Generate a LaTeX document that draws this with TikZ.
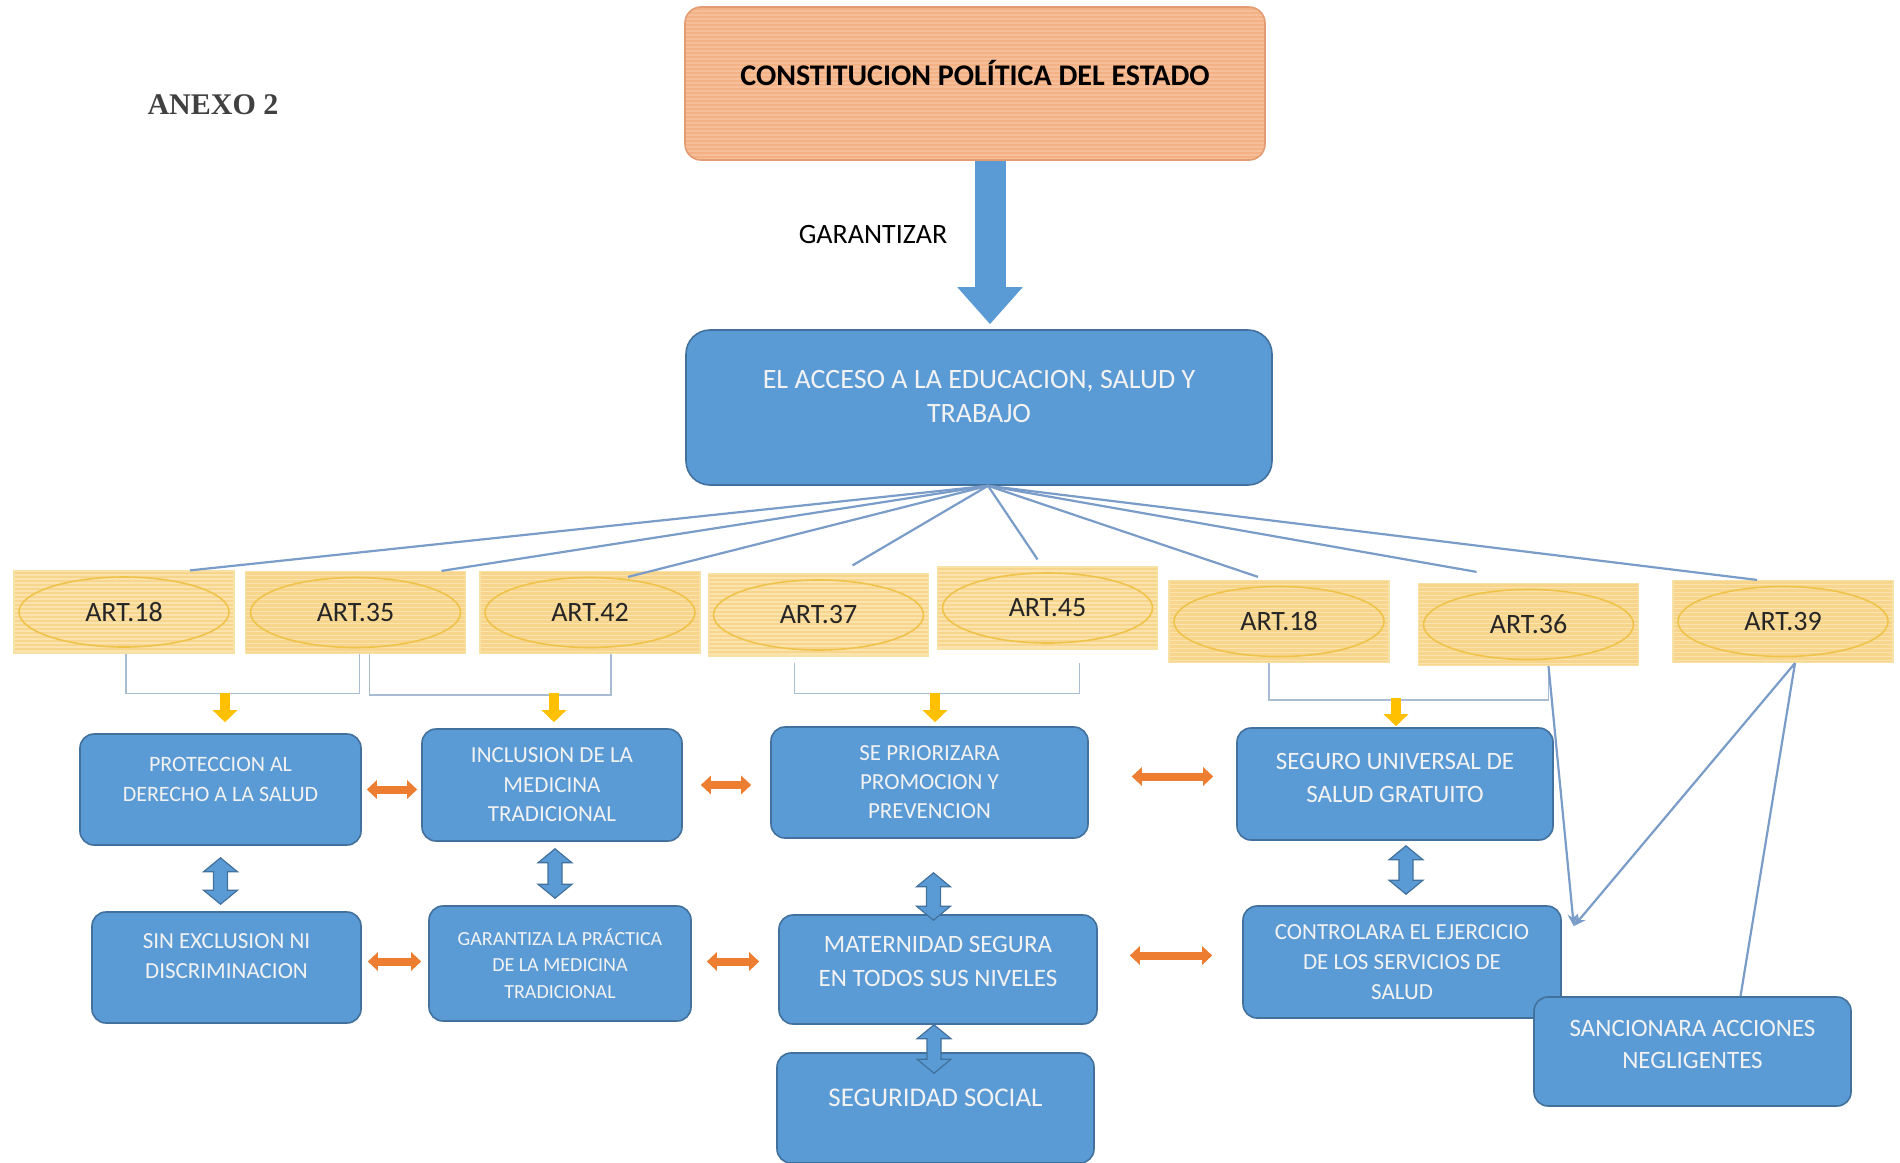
\documentclass[tikz,border=0pt]{standalone}
\usepackage{fontspec}
\setmainfont{Carlito}
\newfontfamily\anexofont{Liberation Serif}
\usetikzlibrary{arrows.meta,positioning,calc}
\definecolor{boxblue}{HTML}{5B9BD5}
\definecolor{boxedge}{HTML}{41719C}
\definecolor{boxtext}{HTML}{F2F2F2}
\definecolor{salmon}{HTML}{F4B183}
\definecolor{salmonline}{HTML}{F6BF9C}
\definecolor{salmonedge}{HTML}{E39C72}
\definecolor{artfill}{HTML}{F8D58C}
\definecolor{artline}{HTML}{FBE3AE}
\definecolor{artedge}{HTML}{EFC34A}
\definecolor{yelarrow}{HTML}{FFC000}
\definecolor{orarrow}{HTML}{ED7D31}
\definecolor{fanline}{HTML}{7A9CC9}
\definecolor{brkline}{HTML}{A9BCD3}
\newcommand{\fsz}[2]{\fontsize{#1}{#2}\selectfont}

\tikzset{
  topbox/.style={draw=salmonedge, fill=salmon, line width=0.8pt, rounded corners=8pt,
    font=\bfseries\fsz{15}{18}, text=black,
    path picture={\foreach \k in {1,...,40}
      \draw[salmonline,line width=0.6pt] ([yshift=-\k*2pt]path picture bounding box.north west) -- ([yshift=-\k*2pt]path picture bounding box.north east);}},
  artbox/.style={draw=artedge!50!white, fill=artfill, line width=0.6pt,
    minimum width=110pt, minimum height=41pt, font=\fsz{14}{16}, text=black!85,
    path picture={\foreach \k in {1,...,21}
      \draw[artline,line width=0.6pt] ([yshift=-\k*2pt]path picture bounding box.north west) -- ([yshift=-\k*2pt]path picture bounding box.north east);
      \draw[artedge,line width=0.8pt] (path picture bounding box.center) ellipse [x radius=52.5pt, y radius=17.5pt];}},
  bluebox/.style={draw=boxedge, fill=boxblue, line width=0.8pt, rounded corners=7pt,
    text=boxtext, align=center, inner sep=2pt},
  bigarrow/.style={boxblue, line width=15.5pt, -{Triangle[width=31.5pt,length=18.5pt]}},
  yelarr/.style={yelarrow, line width=5pt, -{Triangle[width=12pt,length=6pt]}},
  orarr/.style={orarrow, line width=4pt, {Triangle[width=9pt,length=5pt]}-{Triangle[width=9pt,length=5pt]}},
  % vertical block arrow with two heads, drawn as an outlined polygon
  bluearr/.style={draw=boxedge, fill=boxblue, line width=0.6pt, line join=miter,
    to path={let \p1=(\tikztostart), \p2=(\tikztotarget) in
      (\x1,\y1) -- (\x1+8.5pt,\y1-7pt) -- (\x1+3.5pt,\y1-7pt) -- (\x1+3.5pt,\y2+7pt) -- (\x1+8.5pt,\y2+7pt)
      -- (\x1,\y2) -- (\x1-8.5pt,\y2+7pt) -- (\x1-3.5pt,\y2+7pt) -- (\x1-3.5pt,\y1-7pt) -- (\x1-8.5pt,\y1-7pt) -- cycle}},
  fan/.style={fanline, line width=1.1pt},
  bracket/.style={brkline, line width=0.8pt},
  thinarr/.style={fanline, line width=1.1pt, -{Stealth[length=6pt,width=5pt]}}
}

\begin{document}
\begin{tikzpicture}[x=0.5pt,y=-0.5pt,>=Stealth]
  \useasboundingbox[fill=white] (0,0) rectangle (1900,1162);
  \node[font=\anexofont\bfseries\fsz{15}{18},text=black!75] (anexo) at (213,105) {ANEXO 2};
  % constitution and the access box
  \node[topbox,minimum width=290pt,minimum height=76.5pt,text depth=10.5pt] (const) at (975,83.5) {CONSTITUCION POLÍTICA DEL ESTADO};
  \node[bluebox,rounded corners=12pt,minimum width=293pt,minimum height=77.5pt,font=\fsz{14}{17},text depth=11.5pt] (acceso) at (979,407.5) {EL ACCESO A LA EDUCACION, SALUD Y\\TRABAJO};
  \draw[bigarrow] ([xshift=7.5pt]const.south) -- ($(const.south |- acceso.north)+(7.5pt,2.5pt)$);
  \node[font=\fsz{14}{16}] (garlbl) at (873,235) {GARANTIZAR};
  % articles
  \foreach \n/\x/\y/\t in {1/124/612/18,2/355.5/612.5/35,3/590/612.5/42,4/818.5/615/37,
                           5/1047.5/608/45,6/1279/621.5/18,7/1528.5/624.5/36,8/1783/621.5/39}
    \node[artbox] (art\n) at (\x,\y) {ART.\t};
  \coordinate (hub) at ([xshift=4.5pt]acceso.south);
  \foreach \n/\dx/\dy in {1/33/0,2/43/0,3/19/-3,4/17/4,5/-5/3.5,6/-10.5/1.5,7/-26/5.5,8/-13/0}
    \draw[fan] (hub) -- ([xshift=\dx pt,yshift=\dy pt]art\n.north);
  \draw[bracket] ([xshift=1pt]art1.south) -- ++(0,40) -| ([xshift=2pt]art2.south);
  \draw[bracket] ([xshift=7pt]art2.south) -- ++(0,41) -| ([xshift=10.5pt]art3.south);
  \draw[bracket] ([xshift=-12pt,yshift=-3pt]art4.south) -- ++(0,31) -| ([xshift=16pt,yshift=-6.5pt]art5.south);
  \draw[bracket] ([xshift=-5pt]art6.south) -- ++(0,37) -| ([xshift=10pt]art7.south);
  % first row
  \node[bluebox,minimum width=140.5pt,minimum height=55.5pt,font=\fsz{11}{15},text depth=10pt] (prot) at (220.5,789.5) {PROTECCION AL\\DERECHO A LA SALUD};
  \node[bluebox,minimum width=130pt,minimum height=56pt,font=\fsz{11.5}{14.75}] (incl) at (552,785) {INCLUSION DE LA\\MEDICINA\\TRADICIONAL};
  \node[bluebox,minimum width=158.5pt,minimum height=55.5pt,font=\fsz{11.5}{14.5}] (prio) at (929.5,782.5) {SE PRIORIZARA\\PROMOCION Y\\PREVENCION};
  \node[bluebox,minimum width=158pt,minimum height=56pt,font=\fsz{12.5}{16.5},text depth=6.5pt] (seguro) at (1395,784) {SEGURO UNIVERSAL DE\\SALUD GRATUITO};
  % second row
  \node[bluebox,minimum width=134.5pt,minimum height=55.5pt,font=\fsz{11.5}{15},text depth=11.5pt] (sinex) at (226.5,967.5) {SIN EXCLUSION NI\\DISCRIMINACION};
  \node[bluebox,minimum width=131pt,minimum height=57.5pt,font=\fsz{10}{13.25}] (garant) at (560,963.5) {GARANTIZA LA PRÁCTICA\\DE LA MEDICINA\\TRADICIONAL};
  \node[bluebox,minimum width=159pt,minimum height=54.5pt,font=\fsz{12.5}{17},text depth=8.5pt] (matern) at (938,969.5) {MATERNIDAD SEGURA\\EN TODOS SUS NIVELES};
  \node[bluebox,minimum width=158.5pt,minimum height=55pt,font=\fsz{13.5}{16},text depth=10pt] (segsoc) at (935.5,1108) {SEGURIDAD SOCIAL};
  \node[bluebox,minimum width=159pt,minimum height=56pt,font=\fsz{11.5}{15}] (control) at (1402,962) {CONTROLARA EL EJERCICIO\\DE LOS SERVICIOS DE\\SALUD};
  \node[bluebox,minimum width=158.5pt,minimum height=54.5pt,font=\fsz{12.5}{16},text depth=7.5pt] (sanc) at (1692.5,1051.5) {SANCIONARA ACCIONES\\NEGLIGENTES};
  % yellow arrows under the brackets
  \draw[yelarr] ([xshift=2.25pt,yshift=20pt]prot.north) -- ([xshift=2.25pt,yshift=5.5pt]prot.north);
  \draw[yelarr] ([xshift=1pt,yshift=17.5pt]incl.north) -- ([xshift=1pt,yshift=3pt]incl.north);
  \draw[yelarr] ([xshift=2.75pt,yshift=16.5pt]prio.north) -- ([xshift=2.75pt,yshift=2pt]prio.north);
  \draw[yelarr] ([xshift=0.5pt,yshift=14.5pt]seguro.north) -- ([xshift=0.5pt,yshift=0.5pt]seguro.north);
  % links between boxes
  \draw[orarr] ([xshift=2.5pt]prot.east) -- ($(prot.east -| incl.west)+(-2pt,0)$);
  \draw[orarr] ([xshift=9pt]incl.east) -- ($(incl.east -| prio.west)+(-9.5pt,0)$);
  \draw[orarr] ([xshift=21.5pt,yshift=3pt]prio.east) -- ($(prio.east -| seguro.west)+(-11.5pt,3pt)$);
  \draw[orarr] ([xshift=3pt,yshift=3pt]sinex.east) -- ($(sinex.east -| garant.west)+(-3.5pt,3pt)$);
  \draw[orarr] ([xshift=7.5pt,yshift=1pt]garant.east) -- ($(garant.east -| matern.west)+(-9.5pt,1pt)$);
  \draw[orarr] ([xshift=16pt,yshift=7pt]matern.east) -- ($(matern.east -| control.west)+(-15pt,7pt)$);
  \path[bluearr] ([yshift=-6pt]prot.south) to ($(prot.south |- sinex.north)+(0,3.5pt)$);
  \path[bluearr] ([xshift=1.5pt,yshift=-3.5pt]incl.south) to ($(incl.south |- garant.north)+(1.5pt,3.5pt)$);
  \path[bluearr] ([xshift=2pt,yshift=-17pt]prio.south) to ($(prio.south |- matern.north)+(2pt,-3pt)$);
  \path[bluearr] ([xshift=-2pt]matern.south) to ($(matern.south |- segsoc.north)+(-2pt,-10.5pt)$);
  \path[bluearr] ([xshift=5.5pt,yshift=-2.5pt]seguro.south) to ($(seguro.south |- control.north)+(5.5pt,5.5pt)$);
  % thin lines from ART.36 and ART.39
  \coordinate (meet) at ([xshift=6pt,yshift=-10.5pt]control.north east);
  \draw[thinarr] ([xshift=10pt]art7.south) -- (meet);
  \draw[thinarr] ([xshift=6pt]art8.south) -- (meet);
  \draw[fan] ([xshift=6pt]art8.south) -- ([xshift=24pt]sanc.north);
\end{tikzpicture}
\end{document}
